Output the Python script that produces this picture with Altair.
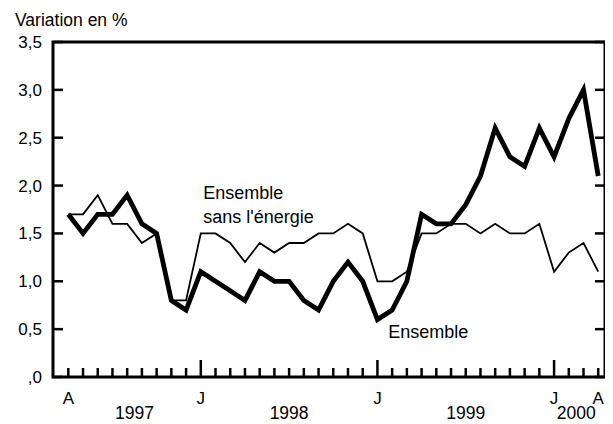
import altair as alt
import pandas as pd

# ---- data ----
months = [f"{y}-{m:02d}" for y, m in
          [(1997, m) for m in range(4, 13)] + [(1998, m) for m in range(1, 13)] +
          [(1999, m) for m in range(1, 13)] + [(2000, m) for m in range(1, 5)]]
ensemble = [1.7, 1.5, 1.7, 1.7, 1.9, 1.6, 1.5, 0.8, 0.7,
            1.1, 1.0, 0.9, 0.8, 1.1, 1.0, 1.0, 0.8, 0.7, 1.0, 1.2, 1.0,
            0.6, 0.7, 1.0, 1.7, 1.6, 1.6, 1.8, 2.1, 2.6, 2.3, 2.2, 2.6,
            2.3, 2.7, 3.0, 2.1]
sans_energie = [1.7, 1.7, 1.9, 1.6, 1.6, 1.4, 1.5, 0.8, 0.8,
                1.5, 1.5, 1.4, 1.2, 1.4, 1.3, 1.4, 1.4, 1.5, 1.5, 1.6, 1.5,
                1.0, 1.0, 1.1, 1.5, 1.5, 1.6, 1.6, 1.5, 1.6, 1.5, 1.5, 1.6,
                1.1, 1.3, 1.4, 1.1]
y_ticks = [0.0, 0.5, 1.0, 1.5, 2.0, 2.5, 3.0, 3.5]
y_tick_labels = [",0", "0,5", "1,0", "1,5", "2,0", "2,5", "3,0", "3,5"]
month_letters = ["A", "J", "J", "J", "A"]
month_letter_pos = ["1997-04", "1998-01", "1999-01", "2000-01", "2000-04"]
years = ["1997", "1998", "1999", "2000"]
year_pos = [4.5, 15, 27, 34.5]  # centred under each year's span (month index)
title_text = "Variation en %"

FONT = "Liberation Sans"
W, H = 552, 335

idx = {m: i for i, m in enumerate(months)}
df = pd.DataFrame({"i": range(len(months)), "month": months,
                   "ensemble": ensemble, "sans": sans_energie})
ticks_df = pd.DataFrame({"i": range(len(months)),
                         "jan": [m.endswith("-01") for m in months]})
yt_df = pd.DataFrame({"v": y_ticks, "t": y_tick_labels})
ml_df = pd.DataFrame({"i": [idx[m] for m in month_letter_pos], "t": month_letters})
yr_df = pd.DataFrame({"i": year_pos, "t": years})
ann_df = pd.DataFrame({"i": [9.17, 9.17, 21.74],
                       "v": [1.857, 1.612, 0.404],
                       "t": ["Ensemble", "sans l'énergie", "Ensemble"]})

xs = alt.Scale(domain=[-1.04, 36.46], nice=False, zero=False)
ys = alt.Scale(domain=[0, 3.5], nice=False, zero=False)
X = lambda f: alt.X(f, scale=xs, axis=None)
Y = lambda f: alt.Y(f, scale=ys, axis=None)

base = alt.Chart(df)
frame = alt.Chart(pd.DataFrame({"k": [0]})).mark_rect(
    fill=None, stroke="black", strokeWidth=3).encode(
    x=alt.value(0), x2=alt.value(W), y=alt.value(0), y2=alt.value(H))
thin = base.mark_line(color="black", strokeWidth=1.8).encode(x=X("i:Q"), y=Y("sans:Q"))
thick = base.mark_line(color="black", strokeWidth=4.8, strokeJoin="miter").encode(
    x=X("i:Q"), y=Y("ensemble:Q"))

ylab = alt.Chart(yt_df).mark_text(font=FONT, fontSize=17, color="black",
                                  align="right", baseline="middle", dy=1).encode(
    y=Y("v:Q"), x=alt.value(-11), text="t:N")
ytick_l = alt.Chart(yt_df).mark_rule(color="black", strokeWidth=2.5).encode(
    y=Y("v:Q"), x=alt.value(0), x2=alt.value(10))
ytick_r = alt.Chart(yt_df).mark_rule(color="black", strokeWidth=2.5).encode(
    y=Y("v:Q"), x=alt.value(W - 10), x2=alt.value(W))

xt_short = alt.Chart(ticks_df).transform_filter("!datum.jan").mark_rule(
    color="black", strokeWidth=2.5).encode(x=X("i:Q"), y=alt.value(H), y2=alt.value(H - 9))
xt_long = alt.Chart(ticks_df).transform_filter("datum.jan").mark_rule(
    color="black", strokeWidth=2.5).encode(x=X("i:Q"), y=alt.value(H), y2=alt.value(H - 17))

ml = alt.Chart(ml_df).mark_text(font=FONT, fontSize=17, color="black",
                                align="center", baseline="alphabetic").encode(
    x=X("i:Q"), y=alt.value(H + 27), text="t:N")
yr = alt.Chart(yr_df).mark_text(font=FONT, fontSize=17.5, color="black",
                                align="center", baseline="alphabetic").encode(
    x=X("i:Q"), y=alt.value(H + 42), text="t:N")
ann = alt.Chart(ann_df).mark_text(font=FONT, fontSize=18, color="black",
                                  align="left", baseline="alphabetic").encode(
    x=X("i:Q"), y=Y("v:Q"), text="t:N")
ttl = alt.Chart(pd.DataFrame({"t": [title_text]})).mark_text(
    font=FONT, fontSize=17.5, color="black", align="left", baseline="alphabetic").encode(
    x=alt.value(-38), y=alt.value(-16), text="t:N")

chart = alt.layer(frame, thin, thick, ylab, ytick_l, ytick_r, xt_short, xt_long,
                  ml, yr, ann, ttl).properties(
    width=W, height=H,
    autosize=alt.AutoSizeParams(type="none"),
    padding={"left": 45, "top": 34, "right": 0, "bottom": 52},
).configure(background="white").configure_view(stroke=None)

chart.save("out.html", embed_options={"renderer": "svg", "actions": False})
